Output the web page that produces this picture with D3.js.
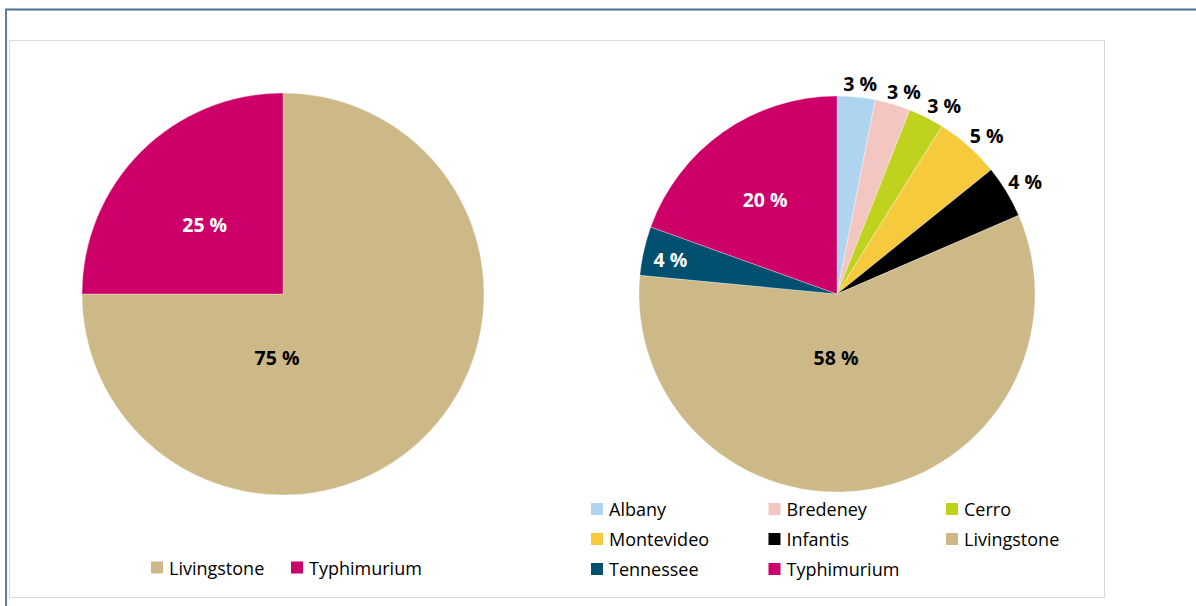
<!DOCTYPE html>
<html>
<head>
<meta charset="utf-8">
<script src="https://cdn.jsdelivr.net/npm/d3@7"></script>
<style>
  body { margin: 0; background: #fff; }
  svg { display: block; font-family: "Open Sans", sans-serif; }
</style>
</head>
<body>
<div id="chart"></div>
<script>
// data - left pie
const leftNames = ["Livingstone", "Typhimurium"];
const leftValues = [75, 25];

// data - right pie (clockwise from 12 o'clock)
const rightNames = ["Albany", "Bredeney", "Cerro", "Montevideo", "Infantis", "Livingstone", "Tennessee", "Typhimurium"];
const rightValues = [3.1, 2.9, 2.9, 5.3, 4.3, 58.0, 4.0, 19.5];

// legend order for the right pie
const rightLegend = ["Albany", "Bredeney", "Cerro", "Montevideo", "Infantis", "Livingstone", "Tennessee", "Typhimurium"];

const COLORS = {
  "Albany": "#afd4f0",
  "Bredeney": "#f3c6c2",
  "Cerro": "#bed21e",
  "Montevideo": "#f7ca3d",
  "Infantis": "#000000",
  "Livingstone": "#cdb888",
  "Tennessee": "#02506f",
  "Typhimurium": "#cc0068"
};

const WIDTH = 1196, HEIGHT = 606;

const svg = d3.select("#chart")
  .append("svg")
    .attr("width", WIDTH)
    .attr("height", HEIGHT);

// frame
svg.append("line")
  .attr("x1", 5).attr("x2", WIDTH).attr("y1", 9.5).attr("y2", 9.5)
  .attr("stroke", "#466f94").attr("stroke-width", 2);
svg.append("line")
  .attr("x1", 6).attr("x2", 6).attr("y1", 9).attr("y2", HEIGHT)
  .attr("stroke", "#5a7fa0").attr("stroke-width", 2);
svg.append("rect")
  .attr("x", 9.5).attr("y", 40.5).attr("width", 1095).attr("height", 557)
  .attr("fill", "#fff").attr("stroke", "#d9d9d9");

// label placement (excel "best fit" look): k = fraction of radius, a = angle in degrees
// anything not listed goes outside end
const placeLeft = {
  "Livingstone": {k: 0.315, a: 185.4},
  "Typhimurium": {k: 0.52, a: 311.5}
};
const placeRight = {
  "Livingstone": {k: 0.32, a: 180.9},
  "Tennessee": {k: 0.86, a: 281.8},
  "Typhimurium": {k: 0.6, a: 322.8}
};

function drawPie(cx, cy, r, names, values, place) {
  const data = names.map((n, i) => ({name: n, value: values[i]}));
  const pie = d3.pie().sort(null).value(d => d.value);
  const arc = d3.arc().innerRadius(0).outerRadius(r);

  const g = svg.append("g").attr("transform", `translate(${cx},${cy})`);
  const arcs = pie(data);

  g.selectAll("path")
    .data(arcs)
    .join("path")
      .attr("d", arc)
      .attr("fill", d => COLORS[d.data.name])
      .attr("stroke", "#fff")
      .attr("stroke-opacity", 0.45)
      .attr("stroke-width", 0.7);

  g.selectAll("text")
    .data(arcs)
    .join("text")
      .attr("font-weight", 700)
      .attr("font-size", "19.5px")
      .attr("text-anchor", "middle")
      .attr("dominant-baseline", "central")
      .attr("fill", d => place[d.data.name] ? (d.data.name == "Livingstone" ? "#000" : "#fff") : "#000")
      .attr("transform", d => {
        const p = place[d.data.name];
        if (p) {
          const a = p.a * Math.PI / 180;
          return `translate(${Math.sin(a) * r * p.k},${-Math.cos(a) * r * p.k})`;
        }
        // outside end
        const a = (d.startAngle + d.endAngle) / 2;
        const rr = r + 2;
        const s = Math.sin(a), c = Math.cos(a);
        const x = s * rr + Math.sign(s) * 17 * Math.min(1, 2.2 * Math.abs(s));
        const y = -c * rr - 11 * Math.max(c, 0.8);
        return `translate(${x},${y})`;
      })
      .text(d => Math.round(d.data.value) + " %");
}

drawPie(283, 294, 201, leftNames, leftValues, placeLeft);
drawPie(837, 294, 198, rightNames, rightValues, placeRight);

// legends
function drawLegend(items, xs, y0, rowH, cols) {
  const g = svg.append("g");
  items.forEach((n, i) => {
    const col = i % cols, row = Math.floor(i / cols);
    const x = xs[col];
    const y = y0 + row * rowH;
    g.append("rect")
      .attr("x", x).attr("y", y - 6).attr("width", 12).attr("height", 12)
      .attr("fill", COLORS[n]);
    g.append("text")
      .attr("x", x + 18).attr("y", y)
      .attr("dominant-baseline", "central")
      .attr("font-size", "18px")
      .attr("fill", "#000")
      .text(n);
  });
}

drawLegend(leftNames, [151, 291], 567.5, 0, 2);
drawLegend(rightLegend, [591, 768.5, 946], 509, 30, 3);
</script>
</body>
</html>
